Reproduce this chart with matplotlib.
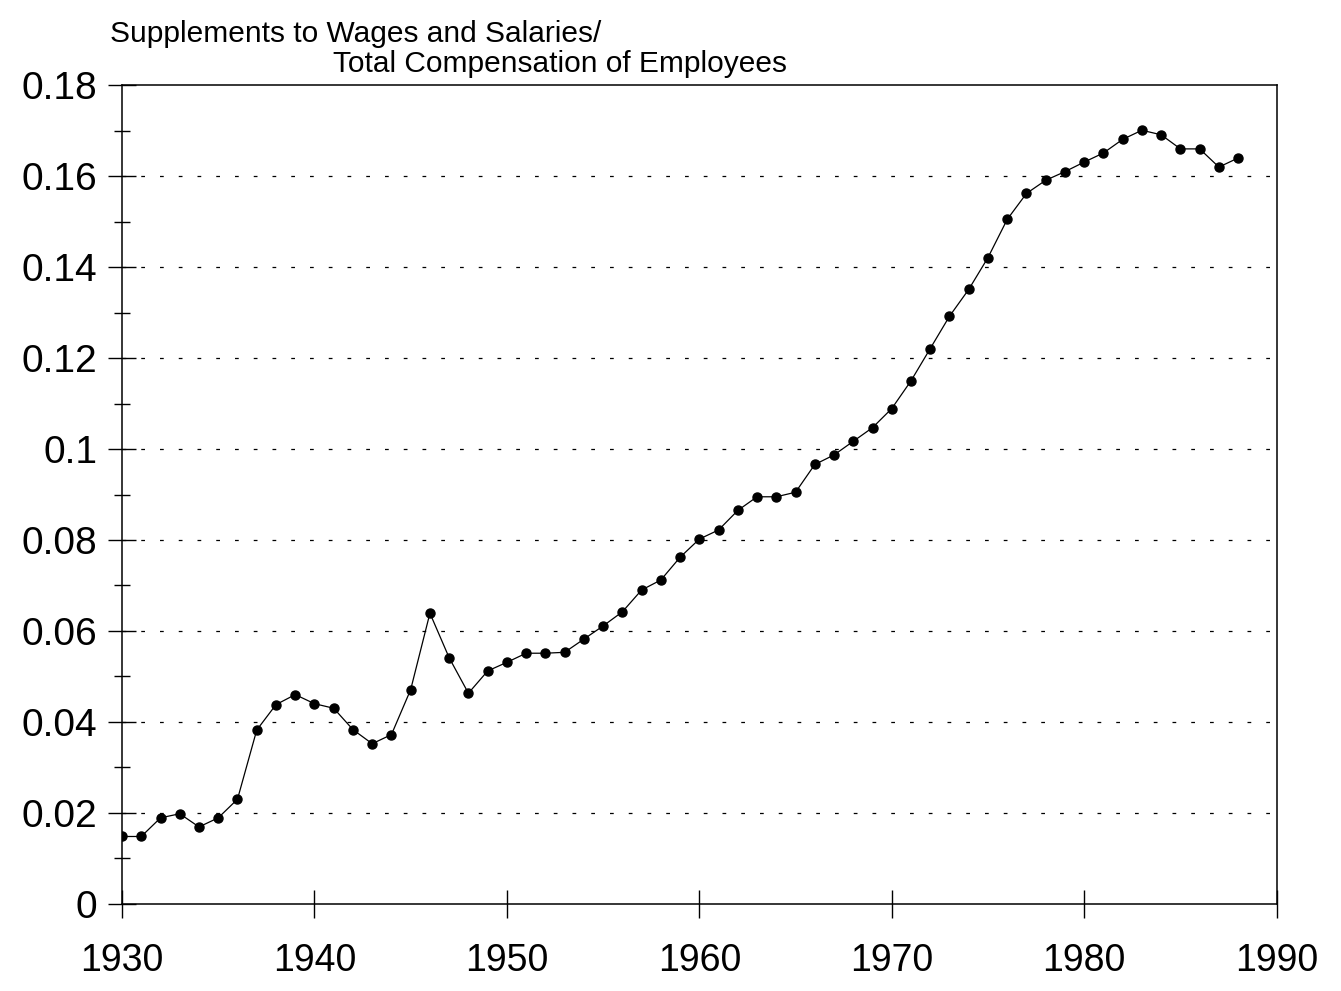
import matplotlib.pyplot as plt
from matplotlib.ticker import MultipleLocator

# supplements to wages and salaries / total compensation of employees
years = list(range(1930, 1989))
ratio = [
    0.0148, 0.0148, 0.0189, 0.0198, 0.0169, 0.0189, 0.0230, 0.0382, 0.0438, 0.0460,
    0.0440, 0.0430, 0.0383, 0.0352, 0.0372, 0.0471, 0.0639, 0.0541, 0.0463, 0.0512,
    0.0531, 0.0551, 0.0551, 0.0553, 0.0582, 0.0611, 0.0642, 0.0690, 0.0712, 0.0762,
    0.0802, 0.0822, 0.0865, 0.0895, 0.0895, 0.0905, 0.0966, 0.0987, 0.1017, 0.1047,
    0.1089, 0.1150, 0.1221, 0.1292, 0.1351, 0.1421, 0.1505, 0.1562, 0.1591, 0.1610,
    0.1631, 0.1651, 0.1681, 0.1701, 0.1691, 0.1660, 0.1660, 0.1620, 0.1640,
]
yticks = [0, 0.02, 0.04, 0.06, 0.08, 0.1, 0.12, 0.14, 0.16, 0.18]
ytick_labels = ["0", "0.02", "0.04", "0.06", "0.08", "0.1", "0.12", "0.14", "0.16", "0.18"]
xticks = [1930, 1940, 1950, 1960, 1970, 1980, 1990]

plt.rcParams["font.family"] = ["Liberation Sans", "DejaVu Sans"]

fig = plt.figure(figsize=(13.41, 9.91), dpi=100)
ax = fig.add_axes([0.091, 0.088, 0.861, 0.826])

# dotted horizontal gridlines (not on the frame)
for y in yticks[1:-1]:
    ax.axhline(y, color="black", lw=0.9, ls=(0, (3, 12)), zorder=1)

ax.plot(years, ratio, color="black", lw=0.9, marker="o", ms=6.5, zorder=3)

ax.set_xlim(1930, 1990)
ax.set_ylim(0, 0.18)
ax.set_xticks(xticks)
ax.set_xticklabels([str(x) for x in xticks])
ax.set_yticks(yticks)
ax.set_yticklabels(ytick_labels)
ax.yaxis.set_minor_locator(MultipleLocator(0.01))

ax.tick_params(axis="both", which="major", direction="inout", length=20, width=1,
               labelsize=27, color="black")
ax.tick_params(axis="y", which="major", labelsize=28)
ax.tick_params(axis="y", which="minor", direction="inout", length=12, width=1)
ax.tick_params(axis="x", pad=18)
ax.tick_params(axis="y", pad=8)

for s in ax.spines.values():
    s.set_linewidth(1.1)

fig.text(0.082, 0.958, "Supplements to Wages and Salaries/", fontsize=21.5, ha="left")
fig.text(0.248, 0.927, "Total Compensation of Employees", fontsize=21.5, ha="left")

fig.savefig("out.png", dpi=100)
